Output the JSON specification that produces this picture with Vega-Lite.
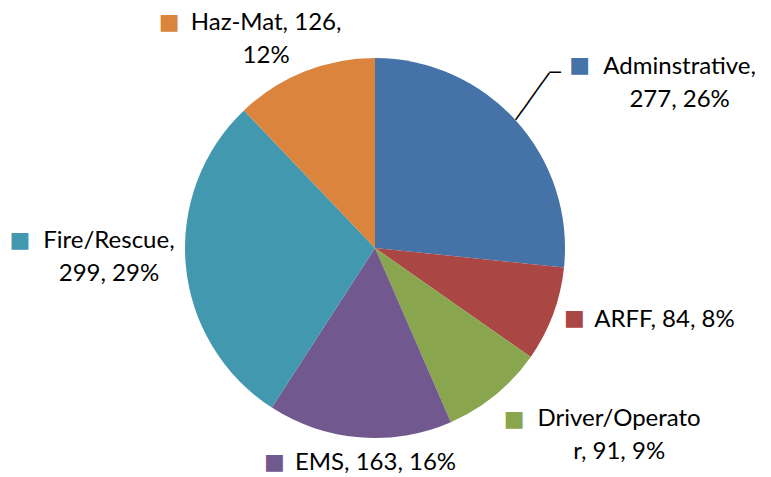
{
  "$schema": "https://vega.github.io/schema/vega-lite/v6.json",
  "width": 750,
  "height": 458,
  "autosize": "none",
  "padding": {"left": 0, "top": 19, "right": 21, "bottom": 0},
  "background": "white",
  "config": {"view": {"stroke": null}},
  "data": {
    "values": [
      {"cat": "Adminstrative", "value": 277, "order": 1, "label": "Adminstrative,\n277, 26%"},
      {"cat": "ARFF", "value": 84, "order": 2, "label": "ARFF, 84, 8%"},
      {"cat": "Driver/Operator", "value": 91, "order": 3, "label": "Driver/Operato\nr, 91, 9%"},
      {"cat": "EMS", "value": 163, "order": 4, "label": "EMS, 163, 16%"},
      {"cat": "Fire/Rescue", "value": 299, "order": 5, "label": "Fire/Rescue,\n299, 29%"},
      {"cat": "Haz-Mat", "value": 126, "order": 6, "label": "Haz-Mat, 126,\n12%"}
    ]
  },
  "encoding": {
    "theta": {"field": "value", "type": "quantitative", "stack": true},
    "order": {"field": "order", "type": "quantitative"},
    "color": {
      "field": "cat",
      "type": "nominal",
      "legend": null,
      "scale": {
        "domain": ["Adminstrative", "ARFF", "Driver/Operator", "EMS", "Fire/Rescue", "Haz-Mat"],
        "range": ["#4572A7", "#AA4643", "#89A54E", "#71588F", "#4198AF", "#DB843D"]
      }
    }
  },
  "layer": [
    {"mark": {"type": "arc", "outerRadius": 190}},
    {
      "mark": {
        "type": "text", "radius": 215, "font": "Lato", "fontSize": 24,
        "align": "center", "baseline": "middle", "lineBreak": "\n", "lineHeight": 33,
        "dx": {"expr": "[145,88,108,18,-52,-29][datum.order-1]"},
        "dy": {"expr": "[-37,-3,5,1,-27,-25][datum.order-1]"}
      },
      "encoding": {"text": {"field": "label", "type": "nominal"}, "color": {"value": "black"}}
    },
    {
      "mark": {
        "type": "text", "radius": 215, "font": "DejaVu Sans", "fontSize": 22,
        "align": "center", "baseline": "middle",
        "dx": {"expr": "[45,-2,3,-83,-141,-126][datum.order-1]"},
        "dy": {"expr": "[-39,-5,5,0,-28,-26][datum.order-1]"}
      },
      "encoding": {"text": {"value": "■"}}
    },
    {
      "mark": {
        "type": "text", "radius": 218.5, "font": "DejaVu Sans", "fontSize": 19.1,
        "align": "center", "baseline": "middle", "angle": -54.5, "dx": 1.4, "dy": -6.5
      },
      "encoding": {
        "text": {"condition": {"test": "datum.cat == 'Adminstrative'", "value": "─────"}, "value": ""},
        "color": {"value": "black"}
      }
    },
    {
      "mark": {
        "type": "text", "radius": 218.5, "font": "DejaVu Sans", "fontSize": 19.1,
        "align": "center", "baseline": "middle", "dx": 17.8, "dy": -28.3
      },
      "encoding": {
        "text": {"condition": {"test": "datum.cat == 'Adminstrative'", "value": "─"}, "value": ""},
        "color": {"value": "black"}
      }
    }
  ]
}
